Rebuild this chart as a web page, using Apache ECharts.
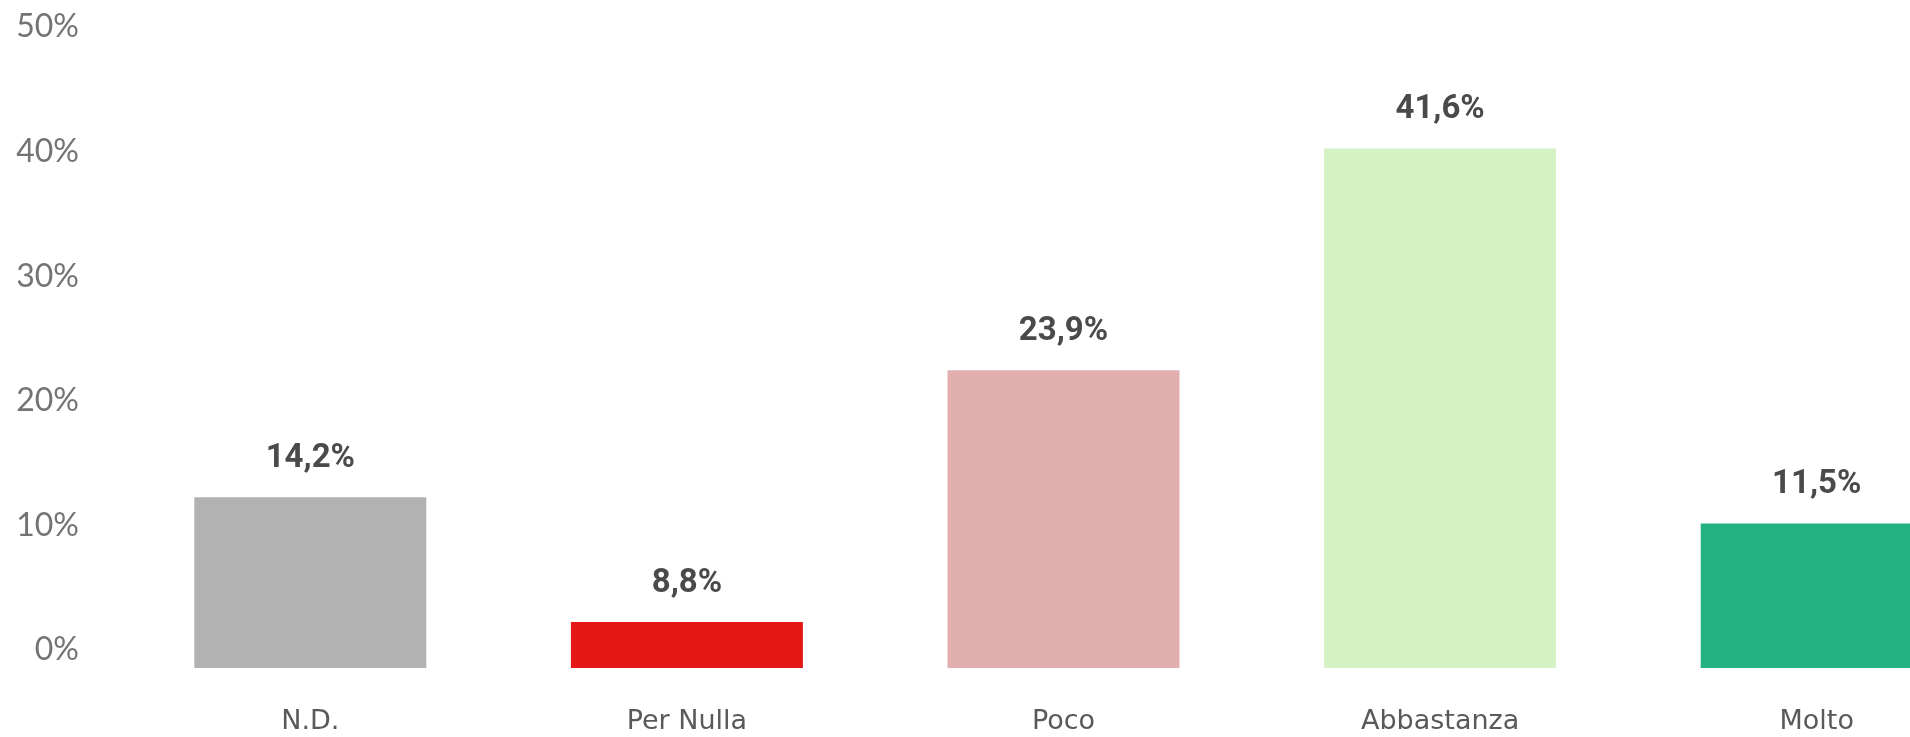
<!DOCTYPE html>
<html>
<head>
<meta charset="utf-8">
<script src="https://cdn.jsdelivr.net/npm/echarts@6/dist/echarts.min.js"></script>
<style>
html,body{margin:0;padding:0;background:#fff;overflow:hidden;}
#chart{width:2005px;height:737px;}
</style>
</head>
<body>
<div id="chart"></div>
<script>
// Data
const categories = ['N.D.', 'Per Nulla', 'Poco', 'Abbastanza', 'Molto'];
// bar heights as drawn in the reference (percent)
const barValues = [13.7, 3.7, 23.9, 41.7, 11.6];
// value labels as printed above the bars
const valueLabels = ['14,2%', '8,8%', '23,9%', '41,6%', '11,5%'];
const barColors = ['#B2B2B2', '#E51717', '#E2AFAF', '#D5F2C4', '#24B283'];
const yTicks = [0, 10, 20, 30, 40, 50];

function draw() {
  const chart = echarts.init(document.getElementById('chart'), null, {renderer: 'canvas'});
  chart.setOption({
    animation: false,
    backgroundColor: '#ffffff',
    grid: {left: 122, right: 0, top: 45, bottom: 69, containLabel: false},
    xAxis: {
      type: 'category',
      data: categories,
      axisLine: {show: false},
      axisTick: {show: false},
      axisLabel: {
        margin: 40,
        fontFamily: 'DejaVu Sans',
        fontSize: 27,
        color: '#595959'
      }
    },
    yAxis: {
      type: 'value',
      min: yTicks[0],
      max: yTicks[yTicks.length - 1],
      interval: yTicks[1] - yTicks[0],
      splitLine: {show: false},
      axisLine: {show: false},
      axisTick: {show: false},
      axisLabel: {
        formatter: '{value}%',
        margin: 43,
        fontFamily: 'Lato',
        fontSize: 32,
        lineHeight: 36,
        color: '#747474',
        verticalAlign: 'bottom'
      }
    },
    series: [{
      type: 'bar',
      barWidth: '61.6%',
      data: barValues.map((v, i) => ({value: v, itemStyle: {color: barColors[i]}})),
      label: {
        show: true,
        position: 'top',
        distance: 22,
        fontFamily: 'Roboto',
        fontWeight: 'bold',
        fontSize: 33,
        color: '#4A4A4A',
        formatter: p => valueLabels[p.dataIndex]
      }
    }]
  });
}

let done = false;
function once() { if (!done) { done = true; draw(); } }
if (document.fonts && document.fonts.load) {
  Promise.all([
    document.fonts.load('32px Lato'),
    document.fonts.load('bold 33px Roboto'),
    document.fonts.load('27px "DejaVu Sans"')
  ]).then(once, once);
  setTimeout(once, 800);
} else {
  once();
}
</script>
</body>
</html>
